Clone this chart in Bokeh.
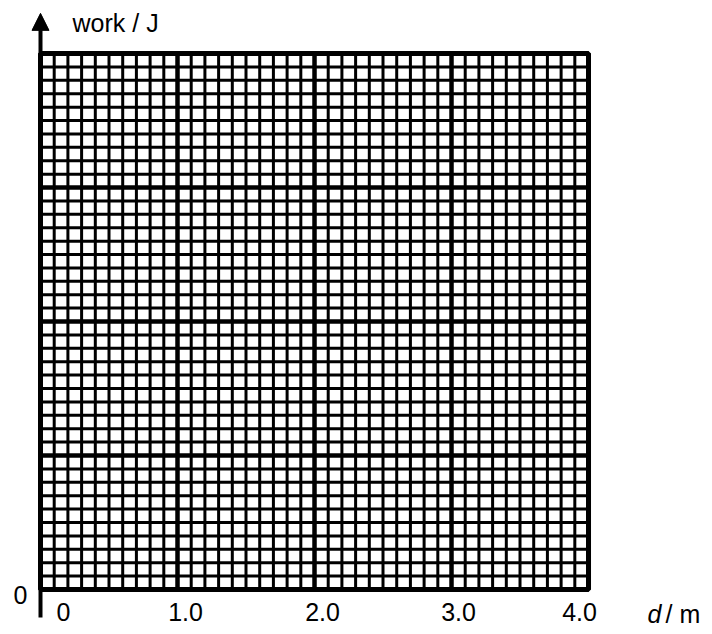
from bokeh.plotting import figure
from bokeh.models import Range1d, Arrow, NormalHead
from bokeh.core.properties import value
from bokeh.embed import file_html
from bokeh.resources import INLINE

# ---- data (graph-paper layout) ----
x_major = [0, 1, 2, 3, 4]
y_major = [0, 1, 2, 3, 4]
x_minor = [i / 10 for i in range(0, 41)]
y_minor = [i / 10 for i in range(0, 41)]
x_tick_labels = ["0", "1.0", "2.0", "3.0", "4.0"]
y_zero_label = "0"
y_title = "work / J"
x_title_var = "d"
x_title_unit = "/ m"

# ---- style ----
FONT = value("Liberation Sans")
FS = value("25px")
x_label_shift = [23, 8, 8, 7, -9]
W, H = 712, 634
X_LO, X_HI = -0.292, 4.905
Y_LO, Y_HI = -0.336, 4.396
arrow_y_start, arrow_y_end = -0.21, 4.30

p = figure(frame_width=W, frame_height=H,
           x_range=Range1d(X_LO, X_HI), y_range=Range1d(Y_LO, Y_HI),
           x_axis_type=None, y_axis_type=None,
           toolbar_location=None, output_backend="svg",
           min_border=0)
p.background_fill_color = "white"
p.border_fill_color = "white"
p.outline_line_color = None
p.xgrid.visible = False
p.ygrid.visible = False

x0, x1 = x_major[0], x_major[-1]
y0, y1 = y_major[0], y_major[-1]

# minor grid lines
p.segment(x0=x_minor, y0=[y0] * len(x_minor), x1=x_minor, y1=[y1] * len(x_minor),
          line_color="black", line_width=3)
p.segment(x0=[x0] * len(y_minor), y0=y_minor, x1=[x1] * len(y_minor), y1=y_minor,
          line_color="black", line_width=3)
# major grid lines
p.segment(x0=x_major, y0=[y0] * len(x_major), x1=x_major, y1=[y1] * len(x_major),
          line_color="black", line_width=4.5)
p.segment(x0=[x0] * len(y_major), y0=y_major, x1=[x1] * len(y_major), y1=y_major,
          line_color="black", line_width=4.5)
# outer border
p.quad(left=x0, right=x1, bottom=y0, top=y1, fill_color=None,
       line_color="black", line_width=5)

# vertical axis with arrow
p.add_layout(Arrow(end=NormalHead(size=17, fill_color="black", line_color="black"),
                   x_start=x0, y_start=arrow_y_start, x_end=x0, y_end=arrow_y_end,
                   line_color="black", line_width=4))

# x tick labels
p.text(x=x_major, y=[y0] * len(x_major), text=x_tick_labels,
       x_offset=x_label_shift, y_offset=23,
       text_align="center", text_baseline="alphabetic",
       text_font=FONT, text_font_size=FS, text_color="black")

# y zero label
p.text(x=[x0], y=[y0], text=[y_zero_label], x_offset=-13, y_offset=6,
       text_align="right", text_baseline="alphabetic",
       text_font=FONT, text_font_size=FS, text_color="black")

# y title
p.text(x=[x0], y=[y1], text=[y_title], x_offset=32, y_offset=-31,
       text_align="left", text_baseline="alphabetic",
       text_font=FONT, text_font_size=FS, text_color="black")

# x title
p.text(x=[x1], y=[y0], text=[x_title_var], x_offset=59, y_offset=25,
       text_align="left", text_baseline="alphabetic",
       text_font=FONT, text_font_size=FS, text_font_style="italic", text_color="black")
p.text(x=[x1], y=[y0], text=[x_title_unit], x_offset=77, y_offset=25,
       text_align="left", text_baseline="alphabetic",
       text_font=FONT, text_font_size=FS, text_color="black")

open("out.html", "w").write(file_html(p, INLINE))
